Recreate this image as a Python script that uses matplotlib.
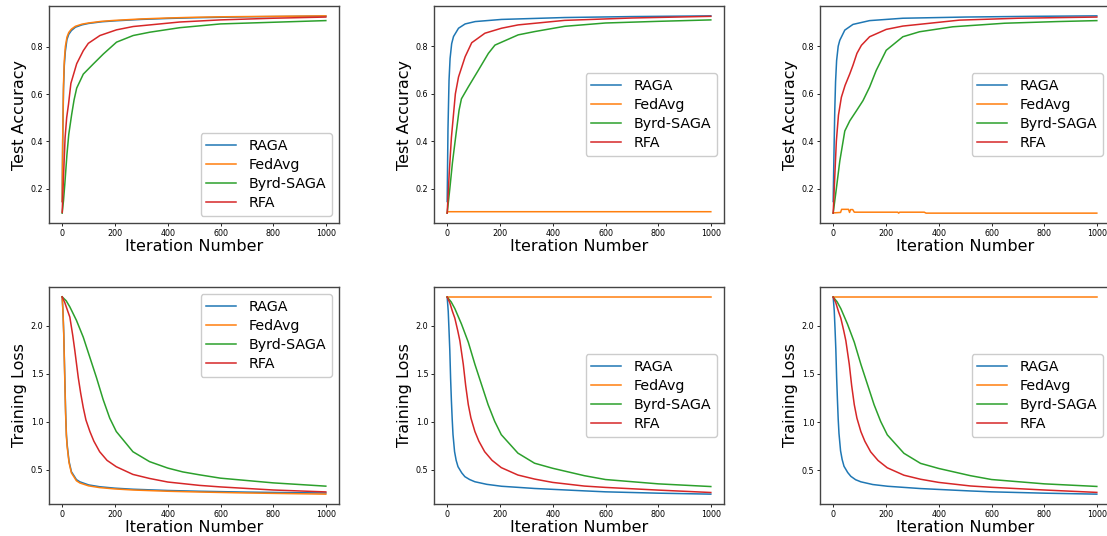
import matplotlib
matplotlib.use("Agg")
import matplotlib.pyplot as plt

# ---- data -----------------------------------------------------------------
names = ["RAGA", "FedAvg", "Byrd-SAGA", "RFA"]
colors = ["tab:blue", "tab:orange", "tab:green", "tab:red"]

# top-left: test accuracy
a1_raga_x = [0, 2, 5, 8, 12, 18, 25, 35, 50, 75, 100, 150, 200, 300, 400, 500, 600, 700, 800, 900, 999]
a1_raga_y = [0.146, 0.40, 0.62, 0.72, 0.78, 0.83, 0.852, 0.868, 0.882, 0.892, 0.898, 0.905, 0.909,
             0.915, 0.919, 0.922, 0.924, 0.926, 0.927, 0.928, 0.929]
a1_fedavg_x = a1_raga_x
a1_fedavg_y = [0.146, 0.42, 0.64, 0.74, 0.80, 0.84, 0.86, 0.874, 0.886, 0.895, 0.900, 0.907, 0.911,
               0.917, 0.921, 0.924, 0.926, 0.927, 0.928, 0.929, 0.930]
a1_byrd_x = [0, 5, 10, 18, 25, 36, 45, 55, 80, 118, 156, 206, 269, 332, 445, 600, 800, 999]
a1_byrd_y = [0.097, 0.15, 0.22, 0.344, 0.43, 0.514, 0.575, 0.625, 0.684, 0.727, 0.769, 0.819,
             0.847, 0.861, 0.880, 0.896, 0.903, 0.910]
a1_rfa_x = [0, 5, 11, 17, 24, 33, 55, 80, 99, 143, 206, 269, 445, 600, 800, 999]
a1_rfa_y = [0.10, 0.25, 0.415, 0.50, 0.557, 0.645, 0.728, 0.783, 0.814, 0.847, 0.871, 0.885,
            0.904, 0.913, 0.920, 0.925]

# top-middle
a2_raga_x = [0, 3, 7, 11, 17, 24, 43, 68, 106, 206, 445, 700, 999]
a2_raga_y = [0.146, 0.45, 0.656, 0.748, 0.81, 0.84, 0.875, 0.893, 0.903, 0.912, 0.920, 0.924, 0.927]
a2_fedavg_x = [0, 2, 999]
a2_fedavg_y = [0.098, 0.103, 0.103]
a2_byrd_x = [0, 10, 20, 35, 45, 54, 80, 118, 156, 181, 269, 332, 445, 600, 800, 999]
a2_byrd_y = [0.097, 0.20, 0.31, 0.443, 0.53, 0.578, 0.628, 0.698, 0.769, 0.804, 0.847, 0.861,
             0.883, 0.897, 0.904, 0.910]
a2_rfa_x = [0, 8, 16, 31, 43, 68, 93, 143, 206, 269, 445, 700, 999]
a2_rfa_y = [0.097, 0.27, 0.415, 0.599, 0.67, 0.755, 0.814, 0.854, 0.875, 0.889, 0.908, 0.918, 0.925]

# top-right
a3_raga_x = [0, 3, 6, 9, 13, 19, 25, 44, 75, 138, 264, 500, 750, 999]
a3_raga_y = [0.146, 0.35, 0.528, 0.65, 0.74, 0.80, 0.825, 0.868, 0.892, 0.908, 0.918, 0.923, 0.926, 0.928]
a3_fedavg_x = [0, 28, 32, 58, 62, 66, 74, 80, 245, 248, 252, 345, 352, 999]
a3_fedavg_y = [0.098, 0.100, 0.113, 0.113, 0.100, 0.112, 0.112, 0.101, 0.101, 0.097, 0.101,
               0.101, 0.097, 0.097]
a3_byrd_x = [0, 12, 25, 44, 63, 88, 113, 138, 163, 201, 264, 327, 453, 650, 850, 999]
a3_byrd_y = [0.097, 0.20, 0.316, 0.443, 0.486, 0.528, 0.571, 0.628, 0.698, 0.783, 0.84, 0.861,
             0.882, 0.897, 0.904, 0.908]
a3_rfa_x = [0, 6, 12, 20, 31, 45, 63, 75, 90, 107, 138, 201, 264, 478, 700, 999]
a3_rfa_y = [0.097, 0.25, 0.40, 0.51, 0.585, 0.635, 0.684, 0.72, 0.77, 0.804, 0.84, 0.871, 0.885,
            0.91, 0.918, 0.923]

# bottom-left: training loss
l1_raga_x = [0, 3, 6, 9, 13, 16, 19, 26, 35, 54, 67, 100, 142, 200, 268, 400, 520, 700, 850, 999]
l1_raga_y = [2.30, 2.15, 1.92, 1.57, 1.11, 0.87, 0.76, 0.59, 0.482, 0.40, 0.377, 0.345, 0.326,
             0.311, 0.300, 0.287, 0.279, 0.270, 0.265, 0.261]
l1_fedavg_x = l1_raga_x
l1_fedavg_y = [2.30, 2.14, 1.90, 1.54, 1.08, 0.85, 0.74, 0.575, 0.47, 0.388, 0.365, 0.335, 0.317,
               0.303, 0.292, 0.279, 0.271, 0.261, 0.255, 0.249]
l1_byrd_x = [0, 15, 29, 54, 80, 105, 130, 155, 180, 205, 268, 331, 400, 457, 520, 600, 800, 999]
l1_byrd_y = [2.30, 2.26, 2.196, 2.056, 1.88, 1.67, 1.46, 1.234, 1.04, 0.90, 0.69, 0.587, 0.52,
             0.48, 0.45, 0.415, 0.366, 0.332]
l1_rfa_x = [0, 10, 20, 29, 40, 48, 61, 70, 80, 90, 105, 120, 142, 170, 205, 268, 331, 400, 520,
            600, 800, 999]
l1_rfa_y = [2.30, 2.24, 2.16, 2.09, 1.90, 1.74, 1.46, 1.30, 1.147, 1.02, 0.90, 0.80, 0.69, 0.60,
            0.534, 0.454, 0.412, 0.375, 0.340, 0.324, 0.292, 0.272]

# bottom-middle
l2_raga_x = [0, 4, 7, 10, 13, 16, 19, 22, 28, 34, 41, 55, 67, 85, 105, 150, 206, 331, 520, 600,
             800, 999]
l2_raga_y = [2.30, 2.15, 1.95, 1.74, 1.45, 1.22, 1.03, 0.87, 0.69, 0.60, 0.534, 0.47, 0.43, 0.40,
             0.377, 0.35, 0.33, 0.307, 0.282, 0.272, 0.258, 0.248]
l2_fedavg_x = [0, 999]
l2_fedavg_y = [2.302, 2.302]
l2_byrd_x = [0, 15, 29, 54, 80, 105, 130, 155, 180, 205, 268, 331, 400, 520, 600, 800, 999]
l2_byrd_y = [2.30, 2.25, 2.18, 2.02, 1.83, 1.60, 1.39, 1.18, 1.006, 0.867, 0.675, 0.57, 0.517,
             0.44, 0.40, 0.355, 0.327]
l2_rfa_x = [0, 10, 20, 29, 40, 48, 61, 70, 80, 90, 105, 120, 142, 170, 205, 268, 331, 400, 520,
            600, 800, 999]
l2_rfa_y = [2.30, 2.24, 2.15, 2.08, 1.95, 1.846, 1.60, 1.38, 1.18, 1.04, 0.90, 0.80, 0.69, 0.60,
            0.524, 0.447, 0.405, 0.37, 0.332, 0.318, 0.29, 0.265]

# bottom-right
l3_raga_x = [0, 4, 7, 10, 13, 16, 19, 22, 28, 34, 41, 55, 67, 85, 105, 150, 206, 331, 520, 600,
             800, 999]
l3_raga_y = [2.30, 2.16, 1.97, 1.76, 1.47, 1.24, 1.03, 0.88, 0.70, 0.61, 0.54, 0.475, 0.435, 0.40,
             0.378, 0.35, 0.332, 0.308, 0.283, 0.274, 0.260, 0.250]
l3_fedavg_x = [0, 999]
l3_fedavg_y = [2.302, 2.302]
l3_byrd_x = l2_byrd_x
l3_byrd_y = [2.30, 2.25, 2.18, 2.02, 1.83, 1.60, 1.39, 1.18, 1.006, 0.867, 0.675, 0.57, 0.517,
             0.442, 0.402, 0.357, 0.330]
l3_rfa_x = l2_rfa_x
l3_rfa_y = [2.30, 2.24, 2.15, 2.08, 1.95, 1.846, 1.60, 1.38, 1.18, 1.04, 0.90, 0.80, 0.69, 0.60,
            0.524, 0.447, 0.405, 0.372, 0.335, 0.321, 0.293, 0.268]

panels = [
    ("Test Accuracy", "lower right",
     [(a1_raga_x, a1_raga_y), (a1_fedavg_x, a1_fedavg_y), (a1_byrd_x, a1_byrd_y), (a1_rfa_x, a1_rfa_y)]),
    ("Test Accuracy", "center right",
     [(a2_raga_x, a2_raga_y), (a2_fedavg_x, a2_fedavg_y), (a2_byrd_x, a2_byrd_y), (a2_rfa_x, a2_rfa_y)]),
    ("Test Accuracy", "center right",
     [(a3_raga_x, a3_raga_y), (a3_fedavg_x, a3_fedavg_y), (a3_byrd_x, a3_byrd_y), (a3_rfa_x, a3_rfa_y)]),
    ("Training Loss", "upper right",
     [(l1_raga_x, l1_raga_y), (l1_fedavg_x, l1_fedavg_y), (l1_byrd_x, l1_byrd_y), (l1_rfa_x, l1_rfa_y)]),
    ("Training Loss", "center right",
     [(l2_raga_x, l2_raga_y), (l2_fedavg_x, l2_fedavg_y), (l2_byrd_x, l2_byrd_y), (l2_rfa_x, l2_rfa_y)]),
    ("Training Loss", "center right",
     [(l3_raga_x, l3_raga_y), (l3_fedavg_x, l3_fedavg_y), (l3_byrd_x, l3_byrd_y), (l3_rfa_x, l3_rfa_y)]),
]

# ---- figure ------------------------------------------------------------------
W, H = 1107, 536
fig = plt.figure(figsize=(W / 100, H / 100), dpi=100)

col_left = [49, 434, 820]
row_top = [6, 287]
ax_w, ax_h = 290, 217

for i, (ylabel, loc, series) in enumerate(panels):
    r, c = divmod(i, 3)
    left = col_left[c] / W
    bottom = (H - row_top[r] - ax_h) / H
    ax = fig.add_axes([left, bottom, ax_w / W, ax_h / H])
    for (xs, ys), name, col in zip(series, names, colors):
        ax.plot(xs, ys, color=col, lw=1.1, label=name)
    ax.set_xticks([0, 200, 400, 600, 800, 1000])
    if r == 0:
        ax.set_yticks([0.2, 0.4, 0.6, 0.8])
    else:
        ax.set_yticks([0.5, 1.0, 1.5, 2.0])
    ax.tick_params(labelsize=5.8, length=2, width=0.6, pad=2)
    for s in ax.spines.values():
        s.set_linewidth(1.0)
        s.set_color("#444444")
    ax.set_xlabel("Iteration Number", fontsize=11.5, labelpad=1)
    ax.set_ylabel(ylabel, fontsize=11.5, labelpad=3)
    ax.legend(loc=loc, fontsize=10.3, handlelength=2.1, borderpad=0.4,
              labelspacing=0.35, handletextpad=0.85, framealpha=1.0)

fig.savefig("out.png", dpi=100)
